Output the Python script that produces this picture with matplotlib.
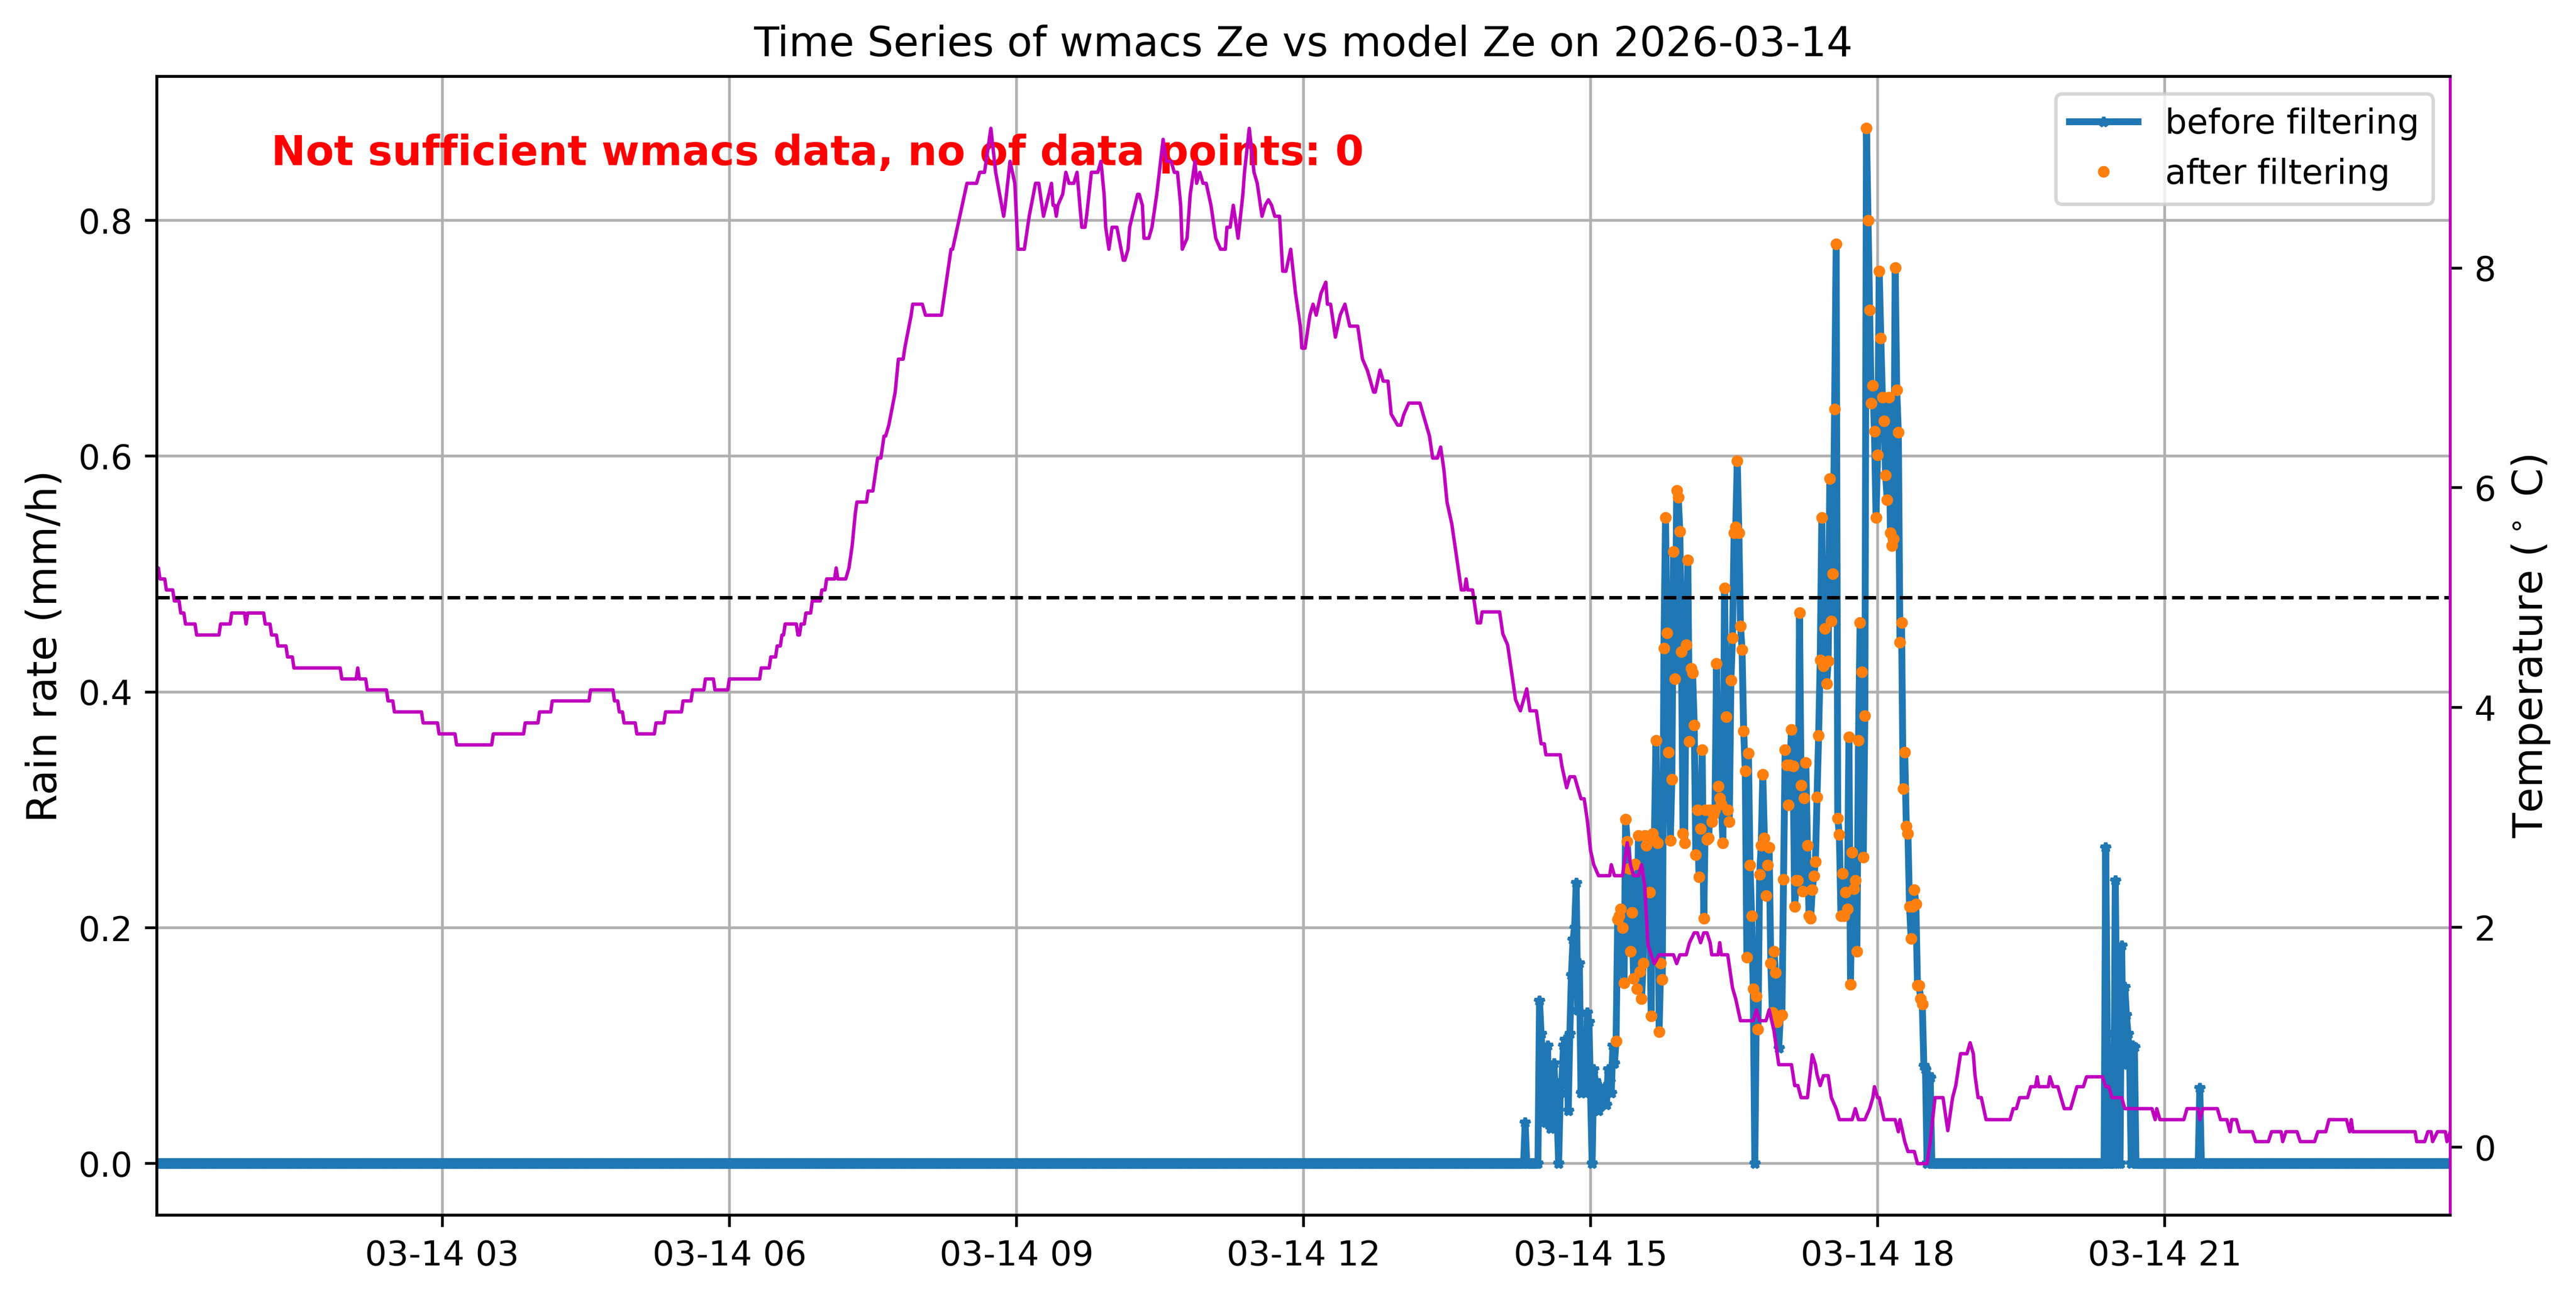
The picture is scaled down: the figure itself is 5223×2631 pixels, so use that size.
import numpy as np
import pandas as pd
import matplotlib
matplotlib.use('Agg')
import matplotlib.pyplot as plt

day = '2026-03-14'

# rain rate (mm/h), 1-min values; zero outside the listed segments
storm_start = '14:15'
storm_rain = [
    0, 0, 0, 0, 0.035, 0, 0, 0, 0, 0,
    0, 0, 0, 0.138, 0.11, 0.09, 0.04, 0.035, 0.1, 0.04,
    0.03, 0.06, 0.085, 0.06, 0.04, 0.0, 0.06, 0.07, 0.1, 0.105,
    0.1, 0.045, 0.11, 0.16, 0.19, 0.2, 0.238, 0.13, 0.17, 0.06,
    0.1, 0.09, 0.06, 0.128, 0.12, 0.06, 0.0, 0.08, 0.07, 0.055,
    0.045, 0.065, 0.05, 0.06, 0.065, 0.05, 0.08, 0.07, 0.06, 0.1,
    0.085, 0.104, 0.207, 0.21, 0.216, 0.2, 0.153, 0.292, 0.273, 0.25,
    0.18, 0.213, 0.157, 0.254, 0.148, 0.278, 0.163, 0.14, 0.17, 0.278,
    0.27, 0.275, 0.23, 0.125, 0.28, 0.275, 0.359, 0.272, 0.112, 0.17,
    0.156, 0.437, 0.548, 0.45, 0.349, 0.274, 0.326, 0.519, 0.411, 0.571,
    0.565, 0.536, 0.434, 0.28, 0.272, 0.44, 0.512, 0.358, 0.42, 0.416,
    0.372, 0.262, 0.30, 0.243, 0.284, 0.351, 0.208, 0.30, 0.275, 0.276,
    0.30, 0.29, 0.296, 0.30, 0.424, 0.32, 0.31, 0.305, 0.272, 0.488,
    0.379, 0.30, 0.29, 0.41, 0.446, 0.535, 0.54, 0.596, 0.535, 0.456,
    0.436, 0.367, 0.333, 0.175, 0.348, 0.253, 0.21, 0.148, 0.0, 0.142,
    0.114, 0.245, 0.27, 0.33, 0.276, 0.227, 0.253, 0.268, 0.17, 0.128,
    0.18, 0.162, 0.12, 0.098, 0.125, 0.126, 0.241, 0.351, 0.338, 0.304,
    0.338, 0.368, 0.337, 0.218, 0.24, 0.24, 0.467, 0.321, 0.231, 0.31,
    0.34, 0.27, 0.21, 0.208, 0.232, 0.244, 0.256, 0.311, 0.363, 0.427,
    0.548, 0.422, 0.454, 0.407, 0.426, 0.581, 0.46, 0.50, 0.64, 0.78,
    0.293, 0.279, 0.21, 0.246, 0.21, 0.23, 0.216, 0.362, 0.152, 0.264,
    0.233, 0.24, 0.18, 0.359, 0.459, 0.417, 0.26, 0.38, 0.878, 0.80,
    0.724, 0.645, 0.66, 0.621, 0.548, 0.601, 0.757, 0.70, 0.65, 0.63,
    0.584, 0.563, 0.65, 0.535, 0.524, 0.53, 0.76, 0.656, 0.62, 0.442,
    0.459, 0.318, 0.349, 0.286, 0.28, 0.218, 0.191, 0.218, 0.232, 0.22,
    0.151, 0.151, 0.14, 0.135, 0.083, 0.08, 0.0, 0.075, 0.073, 0.0,
]
late_start = '20:22'
late_rain = [0.0, 0.268, 0.111, 0.0, 0.0, 0.0, 0.0, 0.24, 0.118, 0.0,
             0.0, 0.185, 0.084, 0.15, 0.126, 0.11, 0.088, 0.0, 0.1, 0.099, 0.0]
night_start = '21:21'
night_rain = [0.0, 0.064, 0.0]

# filtering window used for the "after filtering" points
filter_start = '15:15'
filter_end = '18:29'
min_rain = 0.1

# temperature (deg C), read at the step corners
temp_times = [
    '00:01', '00:02', '00:03', '00:06', '00:07', '00:11', '00:12', '00:15', '00:16', '00:18',
    '00:19', '00:25', '00:26', '00:40', '00:41', '00:47', '00:48', '00:56', '00:57', '00:58',
    '01:08', '01:09', '01:12', '01:13', '01:16', '01:17', '01:22', '01:23', '01:26', '01:27',
    '01:56', '01:57', '02:06', '02:07', '02:08', '02:12', '02:13', '02:25', '02:26', '02:29',
    '02:30', '02:47', '02:48', '02:57', '02:58', '03:08', '03:09', '03:31', '03:32', '03:51',
    '03:52', '04:00', '04:01', '04:08', '04:09', '04:32', '04:33', '04:47', '04:48', '04:50',
    '04:51', '04:53', '04:54', '05:01', '05:02', '05:13', '05:14', '05:19', '05:20', '05:30',
    '05:31', '05:36', '05:37', '05:44', '05:45', '05:50', '05:51', '05:59', '06:00', '06:19',
    '06:20', '06:25', '06:26', '06:29', '06:30', '06:32', '06:33', '06:34', '06:35', '06:42',
    '06:43', '06:44', '06:45', '06:47', '06:48', '06:51', '06:52', '06:57', '06:58', '07:00',
    '07:01', '07:06', '07:07', '07:08', '07:13', '07:15', '07:17', '07:19', '07:20', '07:26',
    '07:27', '07:30', '07:32', '07:33', '07:35', '07:37', '07:38', '07:40', '07:44', '07:46',
    '07:49', '07:50', '07:54', '07:55', '08:01', '08:03', '08:13', '08:19', '08:20', '08:26',
    '08:29', '08:35', '08:37', '08:40', '08:44', '08:47', '08:52', '08:53', '08:56', '08:59',
    '09:01', '09:05', '09:08', '09:12', '09:14', '09:17', '09:22', '09:23', '09:24', '09:25',
    '09:26', '09:29', '09:31', '09:33', '09:36', '09:38', '09:41', '09:43', '09:44', '09:47',
    '09:51', '09:53', '09:55', '09:56', '09:58', '10:00', '10:03', '10:07', '10:08', '10:10',
    '10:11', '10:16', '10:17', '10:19', '10:20', '10:23', '10:25', '10:28', '10:32', '10:34',
    '10:37', '10:39', '10:41', '10:43', '10:44', '10:47', '10:49', '10:52', '10:53', '10:55',
    '10:57', '10:59', '11:02', '11:05', '11:08', '11:11', '11:12', '11:14', '11:16', '11:19',
    '11:22', '11:23', '11:26', '11:29', '11:31', '11:34', '11:36', '11:38', '11:40', '11:42',
    '11:45', '11:47', '11:49', '11:52', '11:55', '11:58', '11:59', '12:01', '12:04', '12:06',
    '12:08', '12:11', '12:14', '12:15', '12:17', '12:20', '12:23', '12:26', '12:29', '12:34',
    '12:37', '12:40', '12:44', '12:45', '12:48', '12:50', '12:53', '12:55', '12:59', '13:01',
    '13:03', '13:06', '13:13', '13:15', '13:17', '13:19', '13:21', '13:24', '13:26', '13:28',
    '13:30', '13:33', '13:39', '13:41', '13:42', '13:43', '13:46', '13:49', '13:51', '13:52',
    '14:03', '14:05', '14:08', '14:10', '14:13', '14:16', '14:18', '14:20', '14:22', '14:26',
    '14:27', '14:29', '14:31', '14:32', '14:41', '14:42', '14:45', '14:47', '14:50', '14:52',
    '14:54', '14:56', '14:58', '15:00', '15:02', '15:05', '15:12', '15:13', '15:15', '15:20',
    '15:23', '15:25', '15:27', '15:30', '15:32', '15:34', '15:36', '15:38', '15:40', '15:43',
    '15:52', '15:54', '15:56', '16:00', '16:02', '16:05', '16:07', '16:09', '16:11', '16:13',
    '16:15', '16:16', '16:20', '16:21', '16:22', '16:26', '16:29', '16:31', '16:34', '16:42',
    '16:44', '16:46', '16:50', '16:52', '16:55', '16:58', '17:06', '17:08', '17:10', '17:12',
    '17:16', '17:19', '17:21', '17:22', '17:24', '17:26', '17:29', '17:31', '17:34', '17:36',
    '17:44', '17:46', '17:48', '17:52', '17:55', '17:57', '17:58', '18:00', '18:01', '18:04',
    '18:11', '18:13', '18:14', '18:17', '18:19', '18:23', '18:25', '18:31', '18:33', '18:36',
    '18:41', '18:43', '18:44', '18:47', '18:49', '18:52', '18:56', '18:58', '19:00', '19:01',
    '19:03', '19:05', '19:08', '19:23', '19:25', '19:27', '19:29', '19:34', '19:36', '19:39',
    '19:40', '19:41', '19:47', '19:48', '19:50', '19:53', '19:55', '19:57', '20:01', '20:03',
    '20:05', '20:09', '20:11', '20:21', '20:23', '20:25', '20:27', '20:33', '20:35', '20:52',
    '20:54', '20:55', '20:57', '21:12', '21:14', '21:21', '21:22', '21:24', '21:33', '21:35',
    '21:39', '21:41', '21:42', '21:45', '21:47', '21:55', '21:57', '22:05', '22:07', '22:13',
    '22:14', '22:16', '22:23', '22:25', '22:34', '22:36', '22:41', '22:43', '22:54', '22:56',
    '22:57', '22:58', '23:37', '23:38', '23:43', '23:45', '23:47', '23:48', '23:51', '23:56',
    '23:57', '23:59',
]
temp_values = [
    5.27, 5.27, 5.17, 5.17, 5.07, 5.07, 4.97, 4.97, 4.86, 4.86,
    4.76, 4.76, 4.66, 4.66, 4.76, 4.76, 4.86, 4.86, 4.76, 4.86,
    4.86, 4.76, 4.76, 4.66, 4.66, 4.56, 4.56, 4.46, 4.46, 4.36,
    4.36, 4.26, 4.26, 4.36, 4.26, 4.26, 4.16, 4.16, 4.06, 4.06,
    3.96, 3.96, 3.86, 3.86, 3.76, 3.76, 3.66, 3.66, 3.76, 3.76,
    3.86, 3.86, 3.96, 3.96, 4.06, 4.06, 4.16, 4.16, 4.06, 4.06,
    3.96, 3.96, 3.86, 3.86, 3.76, 3.76, 3.86, 3.86, 3.96, 3.96,
    4.06, 4.06, 4.16, 4.16, 4.26, 4.26, 4.16, 4.16, 4.26, 4.26,
    4.36, 4.36, 4.46, 4.46, 4.56, 4.56, 4.66, 4.66, 4.76, 4.76,
    4.66, 4.66, 4.76, 4.76, 4.86, 4.86, 4.97, 4.97, 5.07, 5.07,
    5.17, 5.17, 5.27, 5.17, 5.17, 5.27, 5.47, 5.77, 5.87, 5.87,
    5.97, 5.97, 6.17, 6.27, 6.27, 6.47, 6.47, 6.57, 6.87, 7.17,
    7.17, 7.27, 7.57, 7.67, 7.67, 7.57, 7.57, 8.17, 8.17, 8.57,
    8.77, 8.77, 8.87, 8.87, 9.27, 8.87, 8.47, 8.57, 8.97, 8.77,
    8.17, 8.17, 8.47, 8.77, 8.77, 8.47, 8.77, 8.57, 8.57, 8.47,
    8.57, 8.67, 8.87, 8.77, 8.77, 8.87, 8.37, 8.37, 8.47, 8.87,
    8.87, 8.97, 8.67, 8.37, 8.17, 8.37, 8.37, 8.07, 8.07, 8.17,
    8.37, 8.67, 8.67, 8.57, 8.27, 8.27, 8.37, 8.67, 9.17, 8.97,
    8.97, 8.87, 8.87, 8.57, 8.17, 8.27, 8.67, 8.97, 8.77, 8.87,
    8.77, 8.77, 8.57, 8.27, 8.17, 8.17, 8.37, 8.37, 8.57, 8.27,
    8.67, 8.87, 9.27, 8.87, 8.77, 8.47, 8.57, 8.62, 8.57, 8.47,
    8.47, 7.97, 7.97, 8.17, 7.77, 7.47, 7.27, 7.27, 7.57, 7.67,
    7.57, 7.77, 7.87, 7.67, 7.67, 7.37, 7.57, 7.67, 7.47, 7.47,
    7.17, 7.07, 6.87, 6.87, 7.07, 6.97, 6.97, 6.67, 6.57, 6.57,
    6.67, 6.77, 6.77, 6.67, 6.57, 6.47, 6.27, 6.27, 6.37, 6.17,
    5.87, 5.67, 5.07, 5.07, 5.17, 5.07, 5.07, 4.77, 4.77, 4.87,
    4.87, 4.67, 4.57, 4.37, 4.07, 3.97, 4.07, 4.17, 3.97, 3.97,
    3.87, 3.67, 3.67, 3.57, 3.57, 3.47, 3.27, 3.37, 3.37, 3.27,
    3.17, 3.17, 2.97, 2.70, 2.57, 2.47, 2.47, 2.57, 2.47, 2.47,
    2.77, 2.57, 2.47, 2.47, 2.57, 2.37, 1.84, 1.75, 1.67, 1.75,
    1.75, 1.67, 1.75, 1.75, 1.86, 1.95, 1.95, 1.86, 1.95, 1.95,
    1.86, 1.75, 1.75, 1.86, 1.75, 1.75, 1.45, 1.35, 1.15, 1.15,
    1.25, 1.15, 1.15, 1.25, 1.06, 0.75, 0.75, 0.56, 0.56, 0.45,
    0.45, 0.84, 0.75, 0.66, 0.56, 0.65, 0.65, 0.45, 0.35, 0.25,
    0.25, 0.35, 0.25, 0.25, 0.35, 0.45, 0.55, 0.45, 0.45, 0.25,
    0.25, 0.14, 0.25, 0.05, -0.04, -0.04, -0.15, -0.15, 0.05, 0.45,
    0.45, 0.25, 0.15, 0.45, 0.56, 0.85, 0.85, 0.95, 0.85, 0.66,
    0.45, 0.45, 0.25, 0.25, 0.35, 0.35, 0.45, 0.45, 0.55, 0.55,
    0.64, 0.55, 0.55, 0.64, 0.55, 0.55, 0.45, 0.35, 0.35, 0.45,
    0.55, 0.55, 0.64, 0.64, 0.55, 0.55, 0.45, 0.45, 0.35, 0.35,
    0.25, 0.35, 0.25, 0.25, 0.35, 0.35, 0.25, 0.35, 0.35, 0.25,
    0.25, 0.14, 0.25, 0.25, 0.14, 0.14, 0.05, 0.05, 0.14, 0.14,
    0.05, 0.14, 0.14, 0.05, 0.05, 0.14, 0.14, 0.25, 0.25, 0.14,
    0.25, 0.14, 0.14, 0.05, 0.05, 0.14, 0.14, 0.05, 0.14, 0.14,
    0.05, 0.14,
]
temp_threshold = 5.0


def at(hhmm):
    return pd.Timestamp(day + ' ' + hhmm)


# build the 1-minute rain series
times = pd.date_range(at('00:01'), at('23:59'), freq='min')
rain = pd.Series(0.0, index=times)
for start, vals in [(storm_start, storm_rain), (late_start, late_rain), (night_start, night_rain)]:
    idx = pd.date_range(at(start), periods=len(vals), freq='min')
    rain.loc[idx] = vals

mask = (rain.index >= at(filter_start)) & (rain.index <= at(filter_end)) & (rain.values >= min_rain)
filtered = rain[mask]

temp_t = pd.to_datetime([day + ' ' + s for s in temp_times])

fig, ax = plt.subplots(figsize=(12, 6))
ax.plot(rain.index, rain.values, '-*', color='tab:blue', linewidth=2, markersize=3,
        label='before filtering')
ax.plot(filtered.index, filtered.values, 'o', color='tab:orange', markersize=3.4,
        markeredgewidth=0, label='after filtering')
ax.set_ylabel('Rain rate (mm/h)', fontsize=12)
ax.set_title('Time Series of wmacs Ze vs model Ze on ' + day)
ax.grid(True)
ax.legend(loc='upper right')
ax.text(0.05, 0.95, 'Not sufficient wmacs data, no of data points: 0', transform=ax.transAxes,
        color='red', fontsize=12, fontweight='bold', va='top')
ax.set_xlim(times[0], times[-1])

ax2 = ax.twinx()
ax2.plot(temp_t, temp_values, color='m', linewidth=1)
ax2.axhline(temp_threshold, color='k', linestyle='--', linewidth=1)
ax2.set_ylabel(r'Temperature ($^\circ$ C)', fontsize=12)
ax2.spines['right'].set_color('m')

plt.savefig('out.png', dpi=500, bbox_inches='tight')
